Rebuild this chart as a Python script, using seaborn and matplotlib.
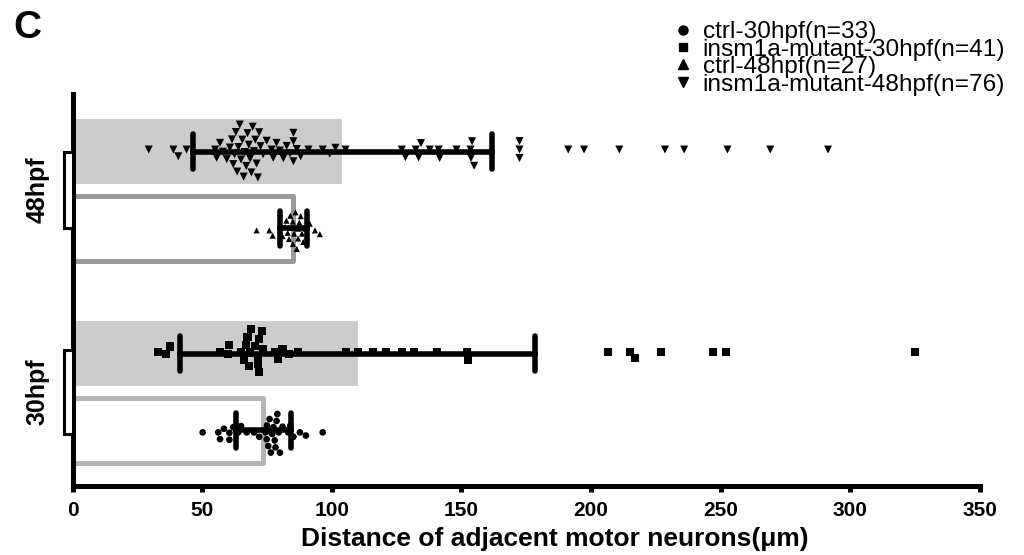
import numpy as np
import pandas as pd
import matplotlib
matplotlib.use('Agg')
import matplotlib.pyplot as plt
import seaborn as sns
from matplotlib.patches import Rectangle
from matplotlib.lines import Line2D
from matplotlib.transforms import blended_transform_factory

# ---------------- data ----------------
stages = ['48hpf', '30hpf']
genotypes = ['mutant', 'ctrl']
x_ticks = [0, 50, 100, 150, 200, 250, 300, 350]
legend_labels = ['ctrl-30hpf(n=33)', 'insm1a-mutant-30hpf(n=41)',
                 'ctrl-48hpf(n=27)', 'insm1a-mutant-48hpf(n=76)']

ctrl_30 = [50.2, 56.2, 56.9, 58.4, 60.5, 60.5, 62.0, 63.9, 65.0, 67.2, 70.0,
           72.0, 74.5, 74.9, 75.0, 75.5, 76.0, 76.5, 77.0, 77.5, 78.0, 78.3,
           78.7, 79.0, 79.5, 80.0, 81.0, 83.2, 84.0, 85.2, 87.7, 90.0, 96.5]

mutant_30 = [33.0, 36.0, 37.6, 57.0, 60.0, 60.5, 65.0, 66.0, 67.0, 67.5, 68.0,
             68.5, 69.0, 70.5, 71.5, 73.0, 73.5, 71.4, 72.0, 72.0, 78.0, 79.4,
             81.0, 83.6, 87.0, 105.5, 110.0, 116.0, 121.0, 127.0, 131.6, 140.6,
             152.0, 152.5, 206.6, 215.0, 217.0, 227.0, 247.0, 252.0, 325.0]

ctrl_48 = [71.0, 75.9, 77.2, 80.0, 81.0, 82.0, 82.5, 83.0, 83.5, 84.0, 84.5,
           85.0, 85.0, 85.5, 86.0, 86.5, 87.0, 87.0, 87.5, 88.0, 88.5, 89.0,
           90.0, 90.5, 91.5, 93.5, 95.4]

mutant_48 = [29.4, 38.9, 40.8, 44.0,
             55.0, 55.6, 56.9, 58.0, 59.5, 60.7, 61.5, 62.0, 62.5, 63.0, 63.5,
             64.0, 64.5, 65.0, 65.5, 66.0, 66.5, 67.0, 67.5, 68.0, 68.5, 69.0,
             69.5, 70.0, 70.5, 71.0, 71.5, 72.0, 72.5, 73.5, 74.9, 76.8, 77.4,
             78.7, 80.0, 81.3, 82.6, 83.9, 85.2, 85.2, 85.2, 86.5, 88.0, 91.0,
             96.5, 99.2, 101.4, 105.3,
             127.0, 128.4, 132.4, 133.5, 134.4, 137.8, 141.2, 141.6, 148.1,
             153.5, 153.7, 154.1, 154.9,
             172.4, 172.4, 172.4,
             191.2, 197.3, 210.9, 228.5, 235.9, 252.6, 269.1, 291.4]

# ---------------- table ----------------
rows = []
for stage, geno, vals in [('30hpf', 'ctrl', ctrl_30), ('30hpf', 'mutant', mutant_30),
                          ('48hpf', 'ctrl', ctrl_48), ('48hpf', 'mutant', mutant_48)]:
    rows += [(stage, geno, v) for v in vals]
df = pd.DataFrame(rows, columns=['stage', 'geno', 'value'])

sns.set_theme(style='ticks')
plt.rcParams['font.family'] = ['Liberation Sans', 'DejaVu Sans']
plt.rcParams.update({'text.color': 'black', 'axes.labelcolor': 'black',
                     'xtick.color': 'black', 'ytick.color': 'black',
                     'axes.edgecolor': 'black'})

fig = plt.figure(figsize=(10.24, 5.55), dpi=100)
ax = fig.add_axes([72.5 / 1024, 1 - 485.5 / 555, (980 - 72.5) / 1024, (485.5 - 94) / 555])

sns.barplot(data=df, x='value', y='stage', hue='geno', order=stages,
            hue_order=genotypes, orient='h', estimator='mean', errorbar='sd',
            capsize=0.35, width=0.76, gap=0.16,
            err_kws=dict(color='black', linewidth=4.0, solid_capstyle='round'),
            legend=False, ax=ax)

ctrl_edge = {0: '#9a9a9a', 1: '#b4b4b4'}
for p in ax.patches:
    yc = p.get_y() + p.get_height() / 2
    idx = int(round(yc))
    if yc < idx:
        p.set_facecolor('#cccccc')
        p.set_edgecolor('none')
        p.set_linewidth(0)
    else:
        p.set_facecolor('white')
        p.set_edgecolor(ctrl_edge[idx])
        p.set_linewidth(3.6)
        p.set_joinstyle('round')

marker_spec = {('30hpf', 'ctrl'): ('o', 4.8), ('30hpf', 'mutant'): ('s', 5.8),
               ('48hpf', 'ctrl'): ('^', 4.4), ('48hpf', 'mutant'): ('v', 5.8)}
for (stage, geno), (m, s) in marker_spec.items():
    sub = df[(df.stage == stage) & (df.geno == geno)]
    sns.swarmplot(data=sub, x='value', y='stage', hue='geno', order=stages,
                  hue_order=genotypes, dodge=True, marker=m, size=s,
                  palette={'mutant': 'black', 'ctrl': 'black'}, legend=False,
                  orient='h', ax=ax)

ax.set_xlim(0, 350)
ax.set_ylim(1.463, -0.475)
ax.set_xticks(x_ticks)
ax.set_xlabel('Distance of adjacent motor neurons(μm)', fontsize=19,
              fontweight='bold', labelpad=5.5)
ax.xaxis.label.set_x((555 - 72.5) / 907.5)
ax.set_ylabel('')
sns.despine(ax=ax)
for sp in ['left', 'bottom']:
    ax.spines[sp].set_linewidth(3.6)
    ax.spines[sp].set_color('black')
ax.tick_params(axis='x', length=4.5, width=3.6, labelsize=15, pad=6.5, color='black')
ax.tick_params(axis='y', length=0, pad=16.5, labelsize=18)
for lbl in ax.get_xticklabels():
    lbl.set_fontweight('bold')
for lbl in ax.get_yticklabels():
    lbl.set_fontweight('bold')
    lbl.set_rotation(90)
    lbl.set_va('center')

# group brackets on the y axis
trans = blended_transform_factory(ax.transAxes, ax.transData)
bracket_half = [0.186, 0.207]
bw = 8.5 / 907.5
for i, h in enumerate(bracket_half):
    ax.add_patch(Rectangle((-bw, i - h), bw, 2 * h, transform=trans,
                           facecolor='white', edgecolor='black', linewidth=2.2,
                           clip_on=False, zorder=3))

handles = [Line2D([], [], linestyle='', marker='o', color='black', markersize=6.5),
           Line2D([], [], linestyle='', marker='s', color='black', markersize=6.0),
           Line2D([], [], linestyle='', marker='^', color='black', markersize=6.5),
           Line2D([], [], linestyle='', marker='v', color='black', markersize=6.5)]
fig.legend(handles, legend_labels, loc='upper left',
           bbox_to_anchor=(671 / 1024, 1 - 21 / 555), frameon=False,
           fontsize=17.6, handlelength=1.0, handletextpad=0.3,
           labelspacing=-0.19, borderpad=0, borderaxespad=0)

fig.text(13 / 1024, 1 - 38 / 555, 'C', fontsize=28, fontweight='bold',
         va='baseline', ha='left')

fig.savefig('out.png', dpi=100)
